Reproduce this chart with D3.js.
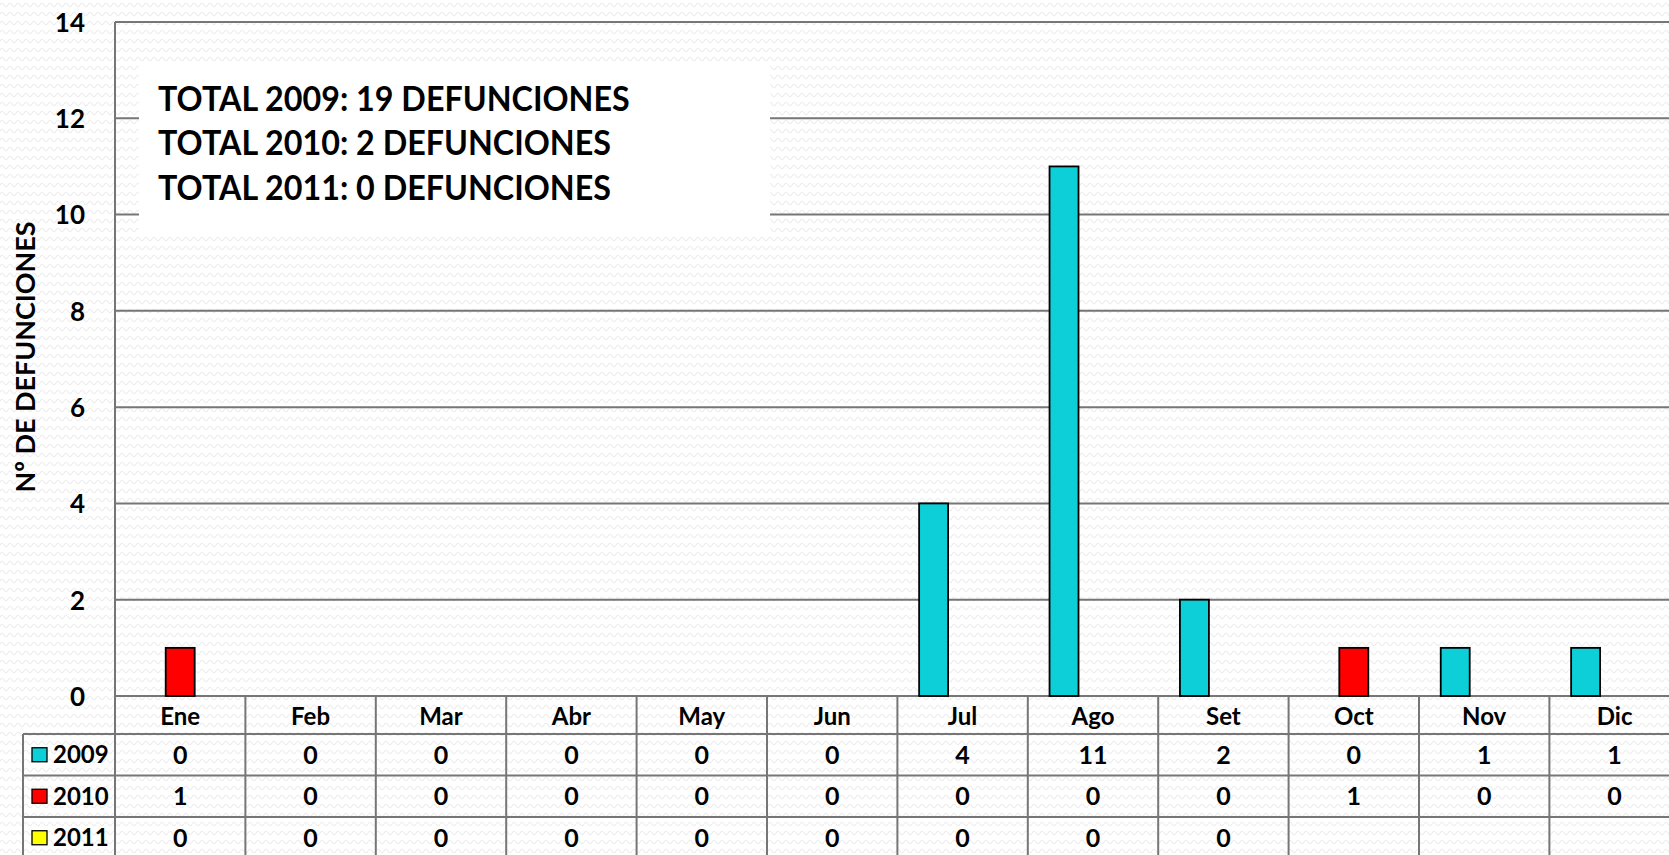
<!DOCTYPE html>
<html>
<head>
<meta charset="utf-8">
<script src="https://cdn.jsdelivr.net/npm/d3@7"></script>
<style>
  html, body { margin: 0; padding: 0; background: #fff; }
  svg { display: block; }
  text { font-family: Lato, "Open Sans", sans-serif; font-weight: 700; fill: #000; }
</style>
</head>
<body>
<svg id="chart" width="1669" height="855"></svg>
<script>
// ---- data ----
const months = ["Ene","Feb","Mar","Abr","May","Jun","Jul","Ago","Set","Oct","Nov","Dic"];
const years = ["2009","2010","2011"];
const values2009 = [0,0,0,0,0,0,4,11,2,0,1,1];
const values2010 = [1,0,0,0,0,0,0,0,0,1,0,0];
const values2011 = [0,0,0,0,0,0,0,0,0,null,null,null];
const seriesColors = ["#0CCFD8","#FF0000","#FFFF00"];
const yTicks = [0,2,4,6,8,10,12,14];
const summaryLines = [
  "TOTAL 2009: 19 DEFUNCIONES",
  "TOTAL 2010: 2 DEFUNCIONES",
  "TOTAL 2011: 0 DEFUNCIONES"
];
const yTitle = "Nº DE DEFUNCIONES";

const seriesValues = [values2009, values2010, values2011];

(function () {
// ---- layout ----
const W = 1669, H = 855;
const pLeft = 115, pTop = 22, pBottom = 696;
const colW = 130.4;
const pRight = pLeft + colW * months.length;
const gridColor = "#767676";

const svg = d3.select("#chart");

// background wave pattern
const defs = svg.append("defs");
const pat = defs.append("pattern")
  .attr("id", "waves").attr("patternUnits", "userSpaceOnUse")
  .attr("width", 8).attr("height", 9);
pat.append("rect").attr("width", 8).attr("height", 9).attr("fill", "#ffffff");
pat.append("path")
  .attr("d", "M0,5 Q2,1.5 4,5 T8,5")
  .attr("fill", "none").attr("stroke", "#eeeeee").attr("stroke-width", 1.2);
svg.append("rect").attr("width", W).attr("height", H).attr("fill", "url(#waves)");

// scales
const x0 = d3.scaleBand().domain(months).range([pLeft, pRight]).padding(0);
const x1 = d3.scaleBand().domain(years).range([0, x0.bandwidth()])
  .paddingInner(0).paddingOuter(0.75);
const y = d3.scaleLinear().domain([0, 14]).range([pBottom, pTop]);

// gridlines
svg.append("g").selectAll("line").data(yTicks).join("line")
  .attr("x1", pLeft).attr("x2", pRight)
  .attr("y1", d => y(d)).attr("y2", d => y(d))
  .attr("stroke", gridColor).attr("stroke-width", 2);

// y axis labels
const yAxis = d3.axisLeft(y).tickValues(yTicks).tickSize(0).tickPadding(30);
const gy = svg.append("g").attr("transform", `translate(${pLeft},0)`).call(yAxis);
gy.select(".domain").remove();
gy.selectAll("text").attr("font-size", 26).attr("font-family", "Lato").attr("font-weight", 700)
  .attr("fill", "#000").attr("dy", "0.36em");

// left axis line (continues down through table)
svg.append("line").attr("x1", pLeft).attr("x2", pLeft).attr("y1", pTop).attr("y2", H + 5)
  .attr("stroke", gridColor).attr("stroke-width", 2);

// summary box
const boxX = 139, boxY = 64, boxW = 631, boxH = 168;
svg.append("rect").attr("x", boxX).attr("y", boxY).attr("width", boxW).attr("height", boxH)
  .attr("fill", "#ffffff");
const sumG = svg.append("g");
const sumText = sumG.selectAll("text").data(summaryLines).join("text")
  .attr("x", 0).attr("y", (d, i) => 111 + i * 44.5)
  .attr("font-size", 34).text(d => d);
{
  const w = sumText.nodes()[0].getComputedTextLength();
  const sx = w > 0 ? 472 / w : 1;
  sumG.attr("transform", `translate(158,0) scale(${sx},1)`);
}

// bars
const barData = [];
months.forEach((m, i) => {
  years.forEach((yr, j) => {
    const v = seriesValues[j][i];
    if (v !== null && v > 0) barData.push({ month: m, year: yr, value: v, color: seriesColors[j] });
  });
});
svg.append("g").selectAll("rect").data(barData).join("rect")
  .attr("x", d => x0(d.month) + x1(d.year))
  .attr("y", d => y(d.value))
  .attr("width", x1.bandwidth())
  .attr("height", d => y(0) - y(d.value))
  .attr("fill", d => d.color)
  .attr("stroke", "#000").attr("stroke-width", 1.8);

// y title
const yt = svg.append("text")
  .attr("transform", "translate(35,357) rotate(-90)")
  .attr("text-anchor", "middle").attr("font-size", 26).text(yTitle);
{
  const w = yt.node().getComputedTextLength();
  if (w > 0) yt.attr("font-size", 26 * 271 / w);
}

// ---- data table ----
const headerTop = pBottom, headerBottom = 734;
const rowH = 41.5;
const rowTops = years.map((d, i) => headerBottom + i * rowH);
const tableLeft = 23;
const tbl = svg.append("g");

tbl.selectAll("line.h").data(rowTops.concat([headerBottom + years.length * rowH])).join("line")
  .attr("class", "h")
  .attr("x1", tableLeft).attr("x2", pRight)
  .attr("y1", d => d).attr("y2", d => d)
  .attr("stroke", gridColor).attr("stroke-width", 2);
tbl.append("line").attr("x1", tableLeft).attr("x2", tableLeft)
  .attr("y1", headerBottom).attr("y2", H + 5)
  .attr("stroke", gridColor).attr("stroke-width", 2);
tbl.selectAll("line.v").data(months.slice(1).concat(["__end"])).join("line")
  .attr("class", "v")
  .attr("x1", d => d === "__end" ? pRight : x0(d))
  .attr("x2", d => d === "__end" ? pRight : x0(d))
  .attr("y1", headerTop).attr("y2", H + 5)
  .attr("stroke", gridColor).attr("stroke-width", 2);

tbl.selectAll("text.m").data(months).join("text")
  .attr("class", "m")
  .attr("x", d => x0(d) + x0.bandwidth() / 2)
  .attr("y", (headerTop + headerBottom) / 2 + 1)
  .attr("dy", "0.36em")
  .attr("text-anchor", "middle").attr("font-size", 24).text(d => d);

years.forEach((yr, j) => {
  const cy = rowTops[j] + rowH / 2;
  const row = tbl.append("g");
  row.selectAll("text").data(months.map((m, i) => ({ m, v: seriesValues[j][i] })).filter(d => d.v !== null))
    .join("text")
    .attr("x", d => x0(d.m) + x0.bandwidth() / 2)
    .attr("y", cy).attr("dy", "0.36em")
    .attr("text-anchor", "middle").attr("font-size", 25).text(d => d.v);
  row.append("rect").attr("x", 32).attr("y", cy - 7).attr("width", 15).attr("height", 14)
    .attr("fill", seriesColors[j]).attr("stroke", "#000").attr("stroke-width", 1.3);
  row.append("text").attr("x", 53).attr("y", cy).attr("dy", "0.36em")
    .attr("font-size", 24).text(yr);
});
})();
</script>
</body>
</html>
